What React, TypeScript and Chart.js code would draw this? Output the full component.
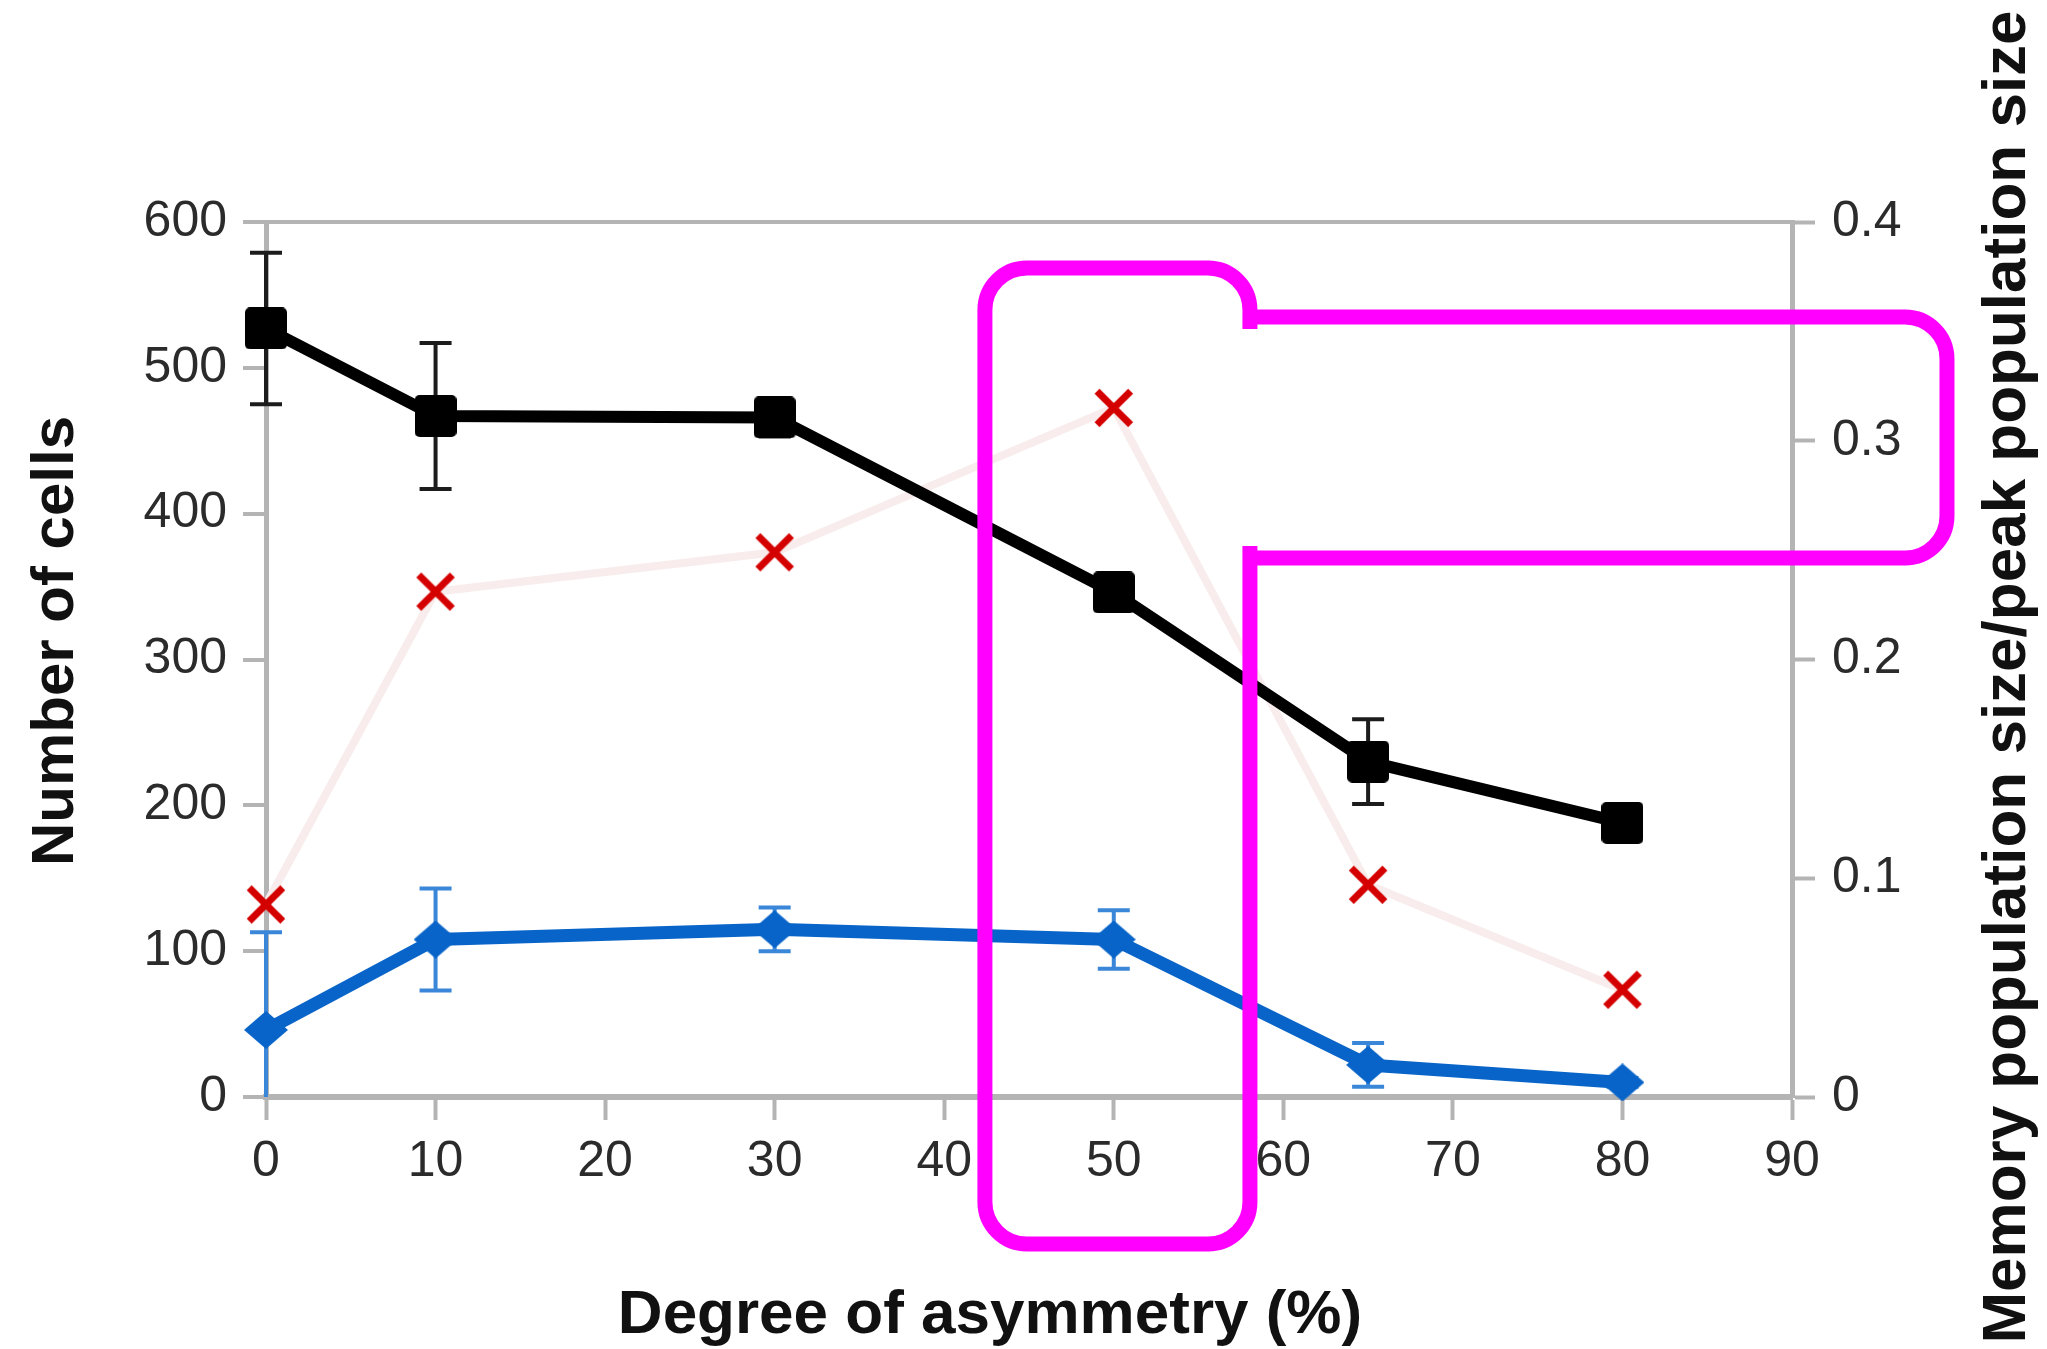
import React, { useEffect, useRef } from 'react';
import { Chart, registerables } from 'chart.js';

Chart.register(...registerables);

// ---- data ----
const asymmetry = [0, 10, 30, 50, 65, 80];
const peakCells = [527, 467, 466, 346, 230, 188];
const peakCellsErr = [52, 50, 13, 6, 29, 5];
const memoryCells = [46, 108, 115, 108, 22, 10];
const memoryCellsErr = [67, 35, 15, 20, 15, 3];
const memoryRatio = [0.088, 0.231, 0.249, 0.315, 0.097, 0.049];

const xTitle = 'Degree of asymmetry (%)';
const leftTitle = 'Number of cells';
const rightTitle = 'Memory population size/peak population size';

// highlight outline (data units: x = asymmetry, y = number of cells)
const highlightVertX = [42.4, 58.03];
const highlightVertY = [568.5, -100.8];
const highlightHorzRightX = 99.14;
const highlightHorzY = [534.9, 369.6];

const FONT = "'Liberation Sans', Arial, Helvetica, sans-serif";
const GRAY = '#b4b4b4';
const TICK_COLOR = '#2b2b2b';

function makeSquare(size: number, color: string) {
  const c = document.createElement('canvas');
  c.width = size;
  c.height = size;
  const g = c.getContext('2d')!;
  g.fillStyle = color;
  const r = 5;
  g.beginPath();
  g.moveTo(r, 0);
  g.arcTo(size, 0, size, size, r);
  g.arcTo(size, size, 0, size, r);
  g.arcTo(0, size, 0, 0, r);
  g.arcTo(0, 0, size, 0, r);
  g.closePath();
  g.fill();
  return c;
}

function makeDiamond(w: number, h: number, color: string) {
  const c = document.createElement('canvas');
  c.width = w;
  c.height = h;
  const g = c.getContext('2d')!;
  g.fillStyle = color;
  g.beginPath();
  g.moveTo(w / 2, 0);
  g.lineTo(w, h / 2);
  g.lineTo(w / 2, h);
  g.lineTo(0, h / 2);
  g.closePath();
  g.fill();
  return c;
}

function makeCross(size: number, lw: number, color: string) {
  const c = document.createElement('canvas');
  c.width = size;
  c.height = size;
  const g = c.getContext('2d')!;
  g.strokeStyle = color;
  g.lineWidth = lw;
  g.lineCap = 'butt';
  const p = lw * 0.6;
  g.beginPath();
  g.moveTo(p, p);
  g.lineTo(size - p, size - p);
  g.moveTo(size - p, p);
  g.lineTo(p, size - p);
  g.stroke();
  return c;
}

const errorBarPlugin = {
  id: 'errorBars',
  beforeDatasetsDraw(chart: any) {
    const ctx = chart.ctx;
    chart.data.datasets.forEach((ds: any) => {
      if (!ds.errors) return;
      const xs = chart.scales.x;
      const ys = chart.scales[ds.yAxisID];
      ctx.save();
      ctx.strokeStyle = ds.errorColor;
      ctx.lineWidth = 4;
      ds.data.forEach((pt: any, i: number) => {
        const e = ds.errors[i];
        const px = xs.getPixelForValue(pt.x);
        const hiV = pt.y + e;
        const loRaw = pt.y - e;
        const lo = Math.max(loRaw, ys.min);
        const pHi = ys.getPixelForValue(hiV);
        const pLo = ys.getPixelForValue(lo);
        const cap = 16;
        ctx.beginPath();
        ctx.moveTo(px, pHi);
        ctx.lineTo(px, pLo);
        ctx.moveTo(px - cap, pHi);
        ctx.lineTo(px + cap, pHi);
        if (loRaw >= ys.min) {
          ctx.moveTo(px - cap, pLo);
          ctx.lineTo(px + cap, pLo);
        }
        ctx.stroke();
      });
      ctx.restore();
    });
  },
};

const overlayPlugin = {
  id: 'overlay',
  afterDraw(chart: any) {
    const ctx = chart.ctx;
    const xs = chart.scales.x;
    const ys = chart.scales.y;
    ctx.save();
    ctx.fillStyle = '#111';
    ctx.textAlign = 'center';
    ctx.textBaseline = 'alphabetic';
    // x title
    ctx.font = `bold 62px ${FONT}`;
    ctx.fillText(xTitle, 990, 1333);
    // left title
    ctx.save();
    ctx.translate(73, 641);
    ctx.rotate(-Math.PI / 2);
    ctx.font = `bold 60px ${FONT}`;
    ctx.fillText(leftTitle, 0, 0);
    ctx.restore();
    // right title
    ctx.save();
    ctx.translate(2025, 677);
    ctx.rotate(-Math.PI / 2);
    ctx.font = `bold 62px ${FONT}`;
    ctx.fillText(rightTitle, 0, 0);
    ctx.restore();

    // magenta highlight outline
    const L = xs.getPixelForValue(highlightVertX[0]);
    const R = xs.getPixelForValue(highlightVertX[1]);
    const T = ys.getPixelForValue(highlightVertY[0]);
    const B = ys.getPixelForValue(highlightVertY[1]);
    const HR = xs.getPixelForValue(highlightHorzRightX);
    const hT = ys.getPixelForValue(highlightHorzY[0]);
    const hB = ys.getPixelForValue(highlightHorzY[1]);
    const r = 42;
    const gap = 12;
    ctx.strokeStyle = '#ff00ff';
    ctx.lineWidth = 15;
    ctx.lineJoin = 'round';
    ctx.beginPath();
    ctx.moveTo(R, hT + gap);
    ctx.lineTo(R, T + r);
    ctx.arcTo(R, T, R - r, T, r);
    ctx.lineTo(L + r, T);
    ctx.arcTo(L, T, L, T + r, r);
    ctx.lineTo(L, B - r);
    ctx.arcTo(L, B, L + r, B, r);
    ctx.lineTo(R - r, B);
    ctx.arcTo(R, B, R, B - r, r);
    ctx.lineTo(R, hB - gap);
    ctx.stroke();
    ctx.beginPath();
    ctx.moveTo(R, hT);
    ctx.lineTo(HR - r, hT);
    ctx.arcTo(HR, hT, HR, hT + r, r);
    ctx.lineTo(HR, hB - r);
    ctx.arcTo(HR, hB, HR - r, hB, r);
    ctx.lineTo(R, hB);
    ctx.stroke();
    ctx.restore();
  },
};

export default function App() {
  const ref = useRef<HTMLCanvasElement>(null);

  useEffect(() => {
    document.body.style.margin = '0';
    const canvas = ref.current!;
    const square = makeSquare(42, '#000000');
    const diamond = makeDiamond(44, 38, '#0864c8');
    const cross = makeCross(42, 7, '#d40000');

    const tickFont = { family: FONT, size: 50 };

    const chart = new Chart(canvas, {
      type: 'line',
      data: {
        datasets: [
          {
            label: 'Peak population',
            data: asymmetry.map((x, i) => ({ x, y: peakCells[i] })),
            yAxisID: 'y',
            borderColor: '#000000',
            backgroundColor: '#000000',
            borderWidth: 12,
            borderJoinStyle: 'round',
            pointStyle: square,
            pointRadius: 21,
            tension: 0,
            clip: false,
            errors: peakCellsErr,
            errorColor: '#1c1c1c',
          } as any,
          {
            label: 'Memory population',
            data: asymmetry.map((x, i) => ({ x, y: memoryCells[i] })),
            yAxisID: 'y',
            borderColor: '#0864c8',
            backgroundColor: '#0864c8',
            borderWidth: 13,
            borderJoinStyle: 'round',
            pointStyle: diamond,
            pointRadius: 21,
            tension: 0,
            clip: false,
            errors: memoryCellsErr,
            errorColor: '#3a86d8',
          } as any,
          {
            label: 'Memory/peak ratio',
            data: asymmetry.map((x, i) => ({ x, y: memoryRatio[i] })),
            yAxisID: 'y1',
            borderColor: '#f8ecec',
            backgroundColor: '#d40000',
            borderWidth: 8,
            pointStyle: cross,
            pointRadius: 21,
            tension: 0,
            clip: false,
          } as any,
        ],
      },
      options: {
        responsive: false,
        animation: false,
        devicePixelRatio: 1,
        layout: { padding: { top: 222, left: 0, right: 0, bottom: 0 } },
        plugins: {
          legend: { display: false },
          tooltip: { enabled: false },
          title: { display: false },
        },
        scales: {
          x: {
            type: 'linear',
            min: 0,
            max: 90,
            ticks: { stepSize: 10, color: TICK_COLOR, font: tickFont, padding: 12 },
            grid: { drawOnChartArea: false, tickLength: 23, tickColor: GRAY, tickWidth: 4 },
            border: { color: GRAY, width: 6 },
            afterFit: (s: any) => {
              s.height = 252;
            },
          },
          y: {
            type: 'linear',
            position: 'left',
            min: 0,
            max: 600,
            ticks: { stepSize: 100, color: TICK_COLOR, font: tickFont, padding: 16 },
            grid: {
              color: (c: any) => (c.tick && c.tick.value === 600 ? GRAY : 'rgba(0,0,0,0)'),
              lineWidth: 4,
              tickLength: 23,
              tickColor: GRAY,
              tickWidth: 4,
            },
            border: { color: GRAY, width: 5 },
            afterFit: (s: any) => {
              s.width = 266;
            },
          },
          y1: {
            type: 'linear',
            position: 'right',
            min: 0,
            max: 0.4,
            ticks: { stepSize: 0.1, color: TICK_COLOR, font: tickFont, padding: 17 },
            grid: { drawOnChartArea: false, tickLength: 23, tickColor: GRAY, tickWidth: 4 },
            border: { color: GRAY, width: 5 },
            afterFit: (s: any) => {
              s.width = 255;
            },
          },
        },
      } as any,
      plugins: [errorBarPlugin, overlayPlugin],
    });

    return () => chart.destroy();
  }, []);

  return (
    <div style={{ position: 'absolute', left: 0, top: 0, width: 2047, height: 1349, background: '#ffffff' }}>
      <canvas ref={ref} width={2047} height={1349} style={{ display: 'block', width: 2047, height: 1349 }} />
    </div>
  );
}
